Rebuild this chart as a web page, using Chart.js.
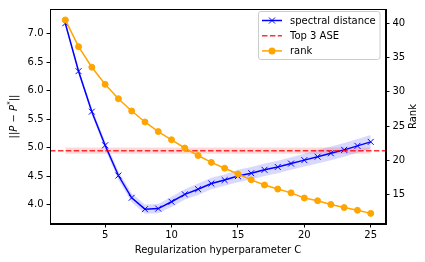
<!DOCTYPE html>
<html>
<head>
<meta charset="utf-8">
<script src="https://cdn.jsdelivr.net/npm/chart.js@4.4.1/dist/chart.umd.min.js"></script>
<style>
    html, body { margin: 0; padding: 0; background: #fff; }
    #wrap { width: 425px; height: 262px; }
</style>
</head>
<body>
<div id="wrap"><canvas id="chart" width="425" height="262"></canvas></div>
<script>
// values
const regC = [2, 3, 4, 5, 6, 7, 8, 9, 10, 11, 12, 13, 14, 15, 16, 17, 18, 19, 20, 21, 22, 23, 24, 25];
const spectral = [7.18, 6.34, 5.63, 5.04, 4.51, 4.12, 3.92, 3.93, 4.05, 4.18, 4.27, 4.37,
                  4.43, 4.50, 4.55, 4.61, 4.66, 4.72, 4.78, 4.84, 4.90, 4.96, 5.03, 5.10];
const spectralStd = [0.03, 0.05, 0.06, 0.07, 0.08, 0.08, 0.08, 0.08, 0.09, 0.09, 0.10, 0.10,
                     0.10, 0.11, 0.11, 0.11, 0.11, 0.11, 0.11, 0.12, 0.12, 0.12, 0.12, 0.12];
const rank = [40.5, 36.6, 33.6, 31.1, 29.0, 27.2, 25.6, 24.2, 23.0, 21.8, 20.7, 19.7,
              18.85, 18.0, 17.15, 16.4, 15.8, 15.25, 14.5, 14.1, 13.55, 13.1, 12.7, 12.25];
const aseValue = 4.945;
const aseStd = 0.055;

const xLimits = [0.85, 26.15];
const yLimits = [3.66, 7.43];
const rankLimits = [10.7, 42.1];
const xTicks = [5, 10, 15, 20, 25];
const yTicks = [4.0, 4.5, 5.0, 5.5, 6.0, 6.5, 7.0];
const rankTicks = [15, 20, 25, 30, 35, 40];

const FONT = 'DejaVu Sans';
const BLUE = '#0000ff';
const ORANGE = '#ffa500';
const RED = 'rgba(255,0,0,0.8)';
const DASH = [5.5, 2.4];

const pts = (ys) => regC.map((c, i) => ({ x: c, y: ys[i] }));

function setTicks(values) {
    return (scale) => { scale.ticks = values.map(v => ({ value: v })); };
}

const tickStyle = {
    display: true, drawOnChartArea: false, drawTicks: true,
    tickLength: 3.5, tickWidth: 1, tickColor: '#000', color: '#000'
};

// box, y titles and legend drawn like matplotlib
const decor = {
    id: 'decor',
    afterDraw(chart) {
        const ctx = chart.ctx;
        const a = chart.chartArea;
        ctx.save();
        ctx.strokeStyle = '#000';
        ctx.lineWidth = 1;
        ctx.strokeRect(Math.round(a.left) + 0.5, Math.round(a.top) + 0.5,
                       Math.round(a.right - a.left) - 1, Math.round(a.bottom - a.top) - 1);

        // left title ||P - P*||
        const mid = (a.top + a.bottom) / 2;
        const parts = [
            ['||', '10px ' + FONT, 0],
            ['P', 'italic 10px ' + FONT, 0],
            [' \u2212 ', '10px ' + FONT, 0],
            ['P', 'italic 10px ' + FONT, 0],
            ['*', '7px ' + FONT, -4],
            ['||', '10px ' + FONT, 0]
        ];
        ctx.save();
        ctx.translate(14, mid);
        ctx.rotate(-Math.PI / 2);
        ctx.fillStyle = '#000';
        ctx.textBaseline = 'middle';
        let w = 0;
        parts.forEach(p => { ctx.font = p[1]; w += ctx.measureText(p[0]).width; });
        let x = -w / 2;
        parts.forEach(p => {
            ctx.font = p[1];
            ctx.fillText(p[0], x, p[2]);
            x += ctx.measureText(p[0]).width;
        });
        ctx.restore();

        // right title
        ctx.save();
        ctx.translate(413.5, mid);
        ctx.rotate(-Math.PI / 2);
        ctx.font = '10px ' + FONT;
        ctx.fillStyle = '#000';
        ctx.textAlign = 'center';
        ctx.textBaseline = 'middle';
        ctx.fillText('Rank', 0, 0);
        ctx.restore();

        // legend
        const lx = 258.5, ly = 11.5, lw = 121.5, lh = 48;
        ctx.beginPath();
        ctx.roundRect(lx, ly, lw, lh, 2.5);
        ctx.fillStyle = 'rgba(255,255,255,0.8)';
        ctx.fill();
        ctx.strokeStyle = '#cccccc';
        ctx.stroke();
        const rows = [
            { label: 'spectral distance', color: BLUE, marker: 'x', dash: [] },
            { label: 'Top 3 ASE', color: RED, marker: null, dash: DASH },
            { label: 'rank', color: ORANGE, marker: 'o', dash: [] }
        ];
        ctx.font = '10px ' + FONT;
        ctx.textBaseline = 'middle';
        rows.forEach((r, i) => {
            const y = 20.5 + i * 15.2;
            ctx.strokeStyle = r.color;
            ctx.lineWidth = 1.5;
            ctx.setLineDash(r.dash);
            ctx.beginPath();
            ctx.moveTo(262, y);
            ctx.lineTo(282, y);
            ctx.stroke();
            ctx.setLineDash([]);
            if (r.marker === 'x') {
                ctx.lineWidth = 1;
                ctx.beginPath();
                ctx.moveTo(269, y - 3); ctx.lineTo(275, y + 3);
                ctx.moveTo(269, y + 3); ctx.lineTo(275, y - 3);
                ctx.stroke();
            } else if (r.marker === 'o') {
                ctx.fillStyle = r.color;
                ctx.beginPath();
                ctx.arc(272, y, 3.5, 0, Math.PI * 2);
                ctx.fill();
            }
            ctx.fillStyle = '#000';
            ctx.fillText(r.label, 290, y + 0.5);
        });
        ctx.restore();
    }
};

new Chart(document.getElementById('chart').getContext('2d'), {
    type: 'line',
    data: {
        datasets: [
            {   // 0 spectral lower
                data: pts(spectral.map((v, i) => v - spectralStd[i])),
                borderWidth: 0, pointRadius: 0, fill: false, order: 5
            },
            {   // 1 spectral upper
                data: pts(spectral.map((v, i) => v + spectralStd[i])),
                borderWidth: 0, pointRadius: 0, fill: 0,
                backgroundColor: 'rgba(0,0,255,0.15)', order: 4
            },
            {   // 2 ase lower
                data: pts(regC.map(() => aseValue - aseStd)),
                borderWidth: 0, pointRadius: 0, fill: false, order: 5
            },
            {   // 3 ase upper
                data: pts(regC.map(() => aseValue + aseStd)),
                borderWidth: 0, pointRadius: 0, fill: 2,
                backgroundColor: 'rgba(255,0,0,0.15)', order: 3
            },
            {   // 4 ase line across the whole axis
                label: 'Top 3 ASE',
                data: xLimits.map(x => ({ x: x, y: aseValue })),
                borderColor: RED, borderWidth: 1.5, borderDash: DASH,
                pointRadius: 0, fill: false, order: 1
            },
            {   // 5 spectral distance
                label: 'spectral distance',
                data: pts(spectral),
                borderColor: BLUE, borderWidth: 1.5,
                pointStyle: 'crossRot', pointRadius: 4.2, pointBorderWidth: 1,
                pointBorderColor: BLUE, fill: false, order: 2
            },
            {   // 6 rank
                label: 'rank',
                data: pts(rank),
                yAxisID: 'y2',
                borderColor: ORANGE, borderWidth: 1.5,
                pointStyle: 'circle', pointRadius: 3, pointBorderWidth: 1,
                pointBackgroundColor: ORANGE, pointBorderColor: ORANGE,
                fill: false, order: 0
            }
        ]
    },
    options: {
        responsive: false,
        animation: false,
        devicePixelRatio: 1,
        layout: { padding: { top: 6, left: 0, right: 0, bottom: 0 } },
        elements: { line: { tension: 0 } },
        plugins: {
            legend: { display: false },
            tooltip: { enabled: false }
        },
        scales: {
            x: {
                type: 'linear', position: 'bottom',
                min: xLimits[0], max: xLimits[1],
                afterBuildTicks: setTicks(xTicks),
                afterFit: (s) => { s.height = 38; },
                grid: tickStyle,
                border: { display: true, color: '#000', width: 1 },
                ticks: { color: '#000', font: { family: FONT, size: 10 }, padding: 2, maxRotation: 0 },
                title: {
                    display: true, text: 'Regularization hyperparameter C', color: '#000',
                    font: { family: FONT, size: 10 }, padding: { top: 0, bottom: 6 }
                }
            },
            y: {
                type: 'linear', position: 'left',
                min: yLimits[0], max: yLimits[1],
                afterBuildTicks: setTicks(yTicks),
                afterFit: (s) => { s.width = 50; },
                grid: tickStyle,
                border: { display: true, color: '#000', width: 1 },
                ticks: {
                    color: '#000', font: { family: FONT, size: 10 }, padding: 3,
                    callback: (v) => v.toFixed(1)
                }
            },
            y2: {
                type: 'linear', position: 'right',
                min: rankLimits[0], max: rankLimits[1],
                afterBuildTicks: setTicks(rankTicks),
                afterFit: (s) => { s.width = 39; },
                grid: tickStyle,
                border: { display: true, color: '#000', width: 1 },
                ticks: { color: '#000', font: { family: FONT, size: 10 }, padding: 3 }
            }
        }
    },
    plugins: [decor]
});
</script>
</body>
</html>
